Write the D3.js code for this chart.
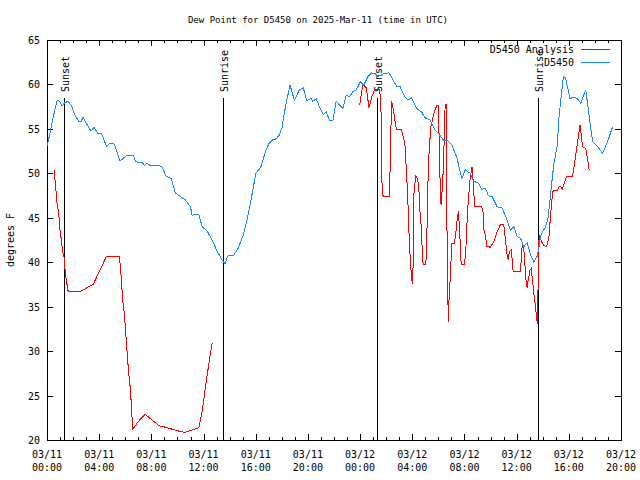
<!DOCTYPE html>
<html><head><meta charset="utf-8">
<script src="https://cdn.jsdelivr.net/npm/d3@7"></script>
<style>
body{margin:0;background:#fff}
svg{display:block}
text{font-family:"DejaVu Sans Mono",monospace;font-size:10px;fill:#000}
</style>
</head><body>
<svg id="c" width="640" height="480"></svg>
<script>
const chartTitle = "Dew Point for D5450 on 2025-Mar-11 (time in UTC)";
const yAxisLabel = "degrees F";
const seriesNames = ["D5450 Analysis", "D5450"];
const seriesColors = ["#ff0000", "#1a86ff"];
const startTime = "2025-03-11T00:00:00Z";
const endTime = "2025-03-12T20:00:00Z";
const yTicks = [20, 25, 30, 35, 40, 45, 50, 55, 60, 65];
const sunHours = [1.30, 13.51, 25.32, 37.62];
const sunLabels = ["Sunset", "Sunrise", "Sunset", "Sunrise"];

// D5450 observations (hours after start, deg F)
const d5450Hours = [0.02,0.33,0.59,0.77,0.98,1.16,1.36,1.62,1.87,2.13,2.44,2.60,2.77,3.03,3.37,3.60,3.88,4.18,4.57,4.83,5.16,5.60,6.11,6.63,6.80,7.32,7.47,7.65,7.91,8.55,8.81,9.12,9.53,9.84,10.61,11.00,11.12,11.64,11.89,12.28,12.66,13.05,13.43,13.64,13.89,14.33,14.66,15.03,15.33,15.64,16.01,16.39,16.78,17.03,17.28,17.59,17.80,18.01,18.19,18.36,18.63,18.78,18.96,19.34,19.65,19.90,20.24,20.37,20.63,20.88,21.19,21.40,21.65,21.91,22.17,22.42,22.68,22.94,23.19,23.45,23.71,24.02,24.27,24.61,24.87,25.12,25.38,25.64,25.89,26.22,26.53,26.79,27.05,27.43,27.69,27.95,28.33,28.72,28.97,29.36,29.74,30.00,30.38,30.65,31.03,31.42,31.80,32.06,32.44,32.70,33.08,33.34,33.60,33.85,34.11,34.50,34.89,35.27,35.52,35.78,36.04,36.30,36.55,36.81,37.07,37.32,37.58,37.71,37.84,38.22,38.40,38.61,38.74,38.86,39.12,39.25,39.59,39.76,40.09,40.40,40.66,40.92,41.30,41.56,41.82,42.21,42.59,42.98,43.36];
const d5450Values = [53.1,55.25,57.1,58.2,58.1,57.6,57.95,58.1,57.6,56.6,55.8,55.8,56.3,55.6,54.75,55.2,54.5,54.5,53.0,53.4,53.3,51.4,52.0,52.0,51.3,51.2,50.9,51.1,50.9,50.9,50.75,49.7,49.4,47.8,47.0,46.25,45.3,45.4,44.0,43.5,42.5,41.2,40.25,39.8,40.8,40.8,41.6,43.0,44.75,47.0,50.0,50.7,52.6,53.4,53.75,53.9,54.3,55.1,56.75,58.1,59.9,59.2,58.2,59.4,59.6,58.2,58.4,58.1,58.4,57.5,56.6,56.9,56.0,55.9,58.1,57.7,57.3,58.8,58.6,59.2,59.4,60.3,59.9,60.9,61.3,61.25,60.9,61.1,61.25,61.3,60.5,59.8,59.8,58.6,58.25,58.5,57.3,56.9,56.25,56.0,54.9,54.5,53.75,53.75,53.2,51.75,49.4,50.4,50.0,49.1,48.9,48.2,48.3,47.45,47.4,46.25,46.1,44.75,43.6,44.0,42.9,42.7,41.75,42.2,40.8,40.0,40.7,41.7,43.0,44.0,44.9,47.75,49.6,51.1,53.2,56.4,60.9,60.7,58.4,58.6,58.4,57.9,59.4,56.4,53.6,53.0,52.25,53.6,55.25];

// D5450 Analysis (null = gap in the line)
const analysisHours = [0.54,0.64,0.77,0.90,1.00,1.10,1.18,1.31,1.36,1.46,1.56,1.62,2.60,3.03,3.54,4.06,4.57,5.55,5.68,5.80,5.93,6.11,6.24,6.40,6.57,7.01,7.53,8.04,8.61,9.19,9.84,10.53,11.00,11.64,11.89,12.15,12.41,12.66,18.00,23.97,24.10,24.22,24.30,24.48,24.68,24.87,24.94,25.12,25.51,25.64,25.68,25.76,26.22,26.28,26.41,26.53,26.79,27.18,27.43,27.51,27.61,27.69,27.76,27.87,27.95,28.00,28.07,28.13,28.26,28.41,28.51,28.59,28.72,28.77,28.84,29.03,29.11,29.15,29.23,29.31,29.43,29.68,29.87,30.00,30.08,30.14,30.21,30.29,30.39,30.52,30.62,30.65,30.70,30.77,30.85,30.90,31.03,31.23,31.29,31.36,31.46,31.54,31.59,31.67,31.75,31.98,32.06,32.14,32.23,32.31,32.39,32.50,32.58,32.62,32.70,32.77,33.31,33.42,33.47,33.60,33.65,33.73,33.98,34.24,34.50,34.75,35.01,35.14,35.27,35.35,35.45,35.58,35.66,35.73,36.30,36.37,36.45,36.55,36.63,36.73,36.81,36.86,36.94,37.01,37.12,37.20,37.32,37.47,37.58,37.66,37.71,37.78,37.91,38.09,38.30,38.48,38.61,38.74,38.81,39.12,39.32,39.51,39.69,39.84,40.28,40.40,40.66,40.86,40.97,41.05,41.30,41.43,41.56];
const analysisValues = [50.4,48.9,46.6,45.5,43.6,42.5,41.4,40.5,39.5,38.2,37.25,36.75,36.75,37.1,37.5,39.1,40.7,40.7,38.5,35.75,34.25,30.5,27.9,25.6,21.2,22.1,22.9,22.25,21.6,21.4,21.1,20.85,21.05,21.4,23.2,26.0,28.6,30.95,null,57.7,59.0,59.9,59.9,59.6,57.4,58.4,58.8,59.4,59.4,56.0,48.9,47.45,47.45,49.2,58.1,57.3,54.9,54.9,53.4,51.3,48.5,45.9,42.9,39.7,38.4,37.6,39.7,47.75,49.7,49.4,48.1,45.7,43.4,40.8,39.7,39.7,41.75,45.9,50.4,53.0,55.25,56.9,57.6,57.6,52.6,48.5,46.4,48.1,50.75,57.7,57.7,45.7,37.6,33.3,37.6,37.8,42.1,42.1,42.7,43.6,45.1,45.7,44.5,42.3,39.7,39.7,40.6,42.3,45.7,47.0,48.9,50.0,50.75,50.0,48.5,46.25,46.25,45.7,43.8,43.0,42.5,41.75,41.7,42.3,43.4,44.2,44.3,42.5,40.8,40.3,41.2,41.4,40.25,39.0,39.0,40.8,42.3,41.4,39.9,37.8,37.1,37.8,38.4,39.1,39.3,38.2,36.5,34.6,33.1,38.2,42.5,43.0,42.3,41.9,41.75,42.9,45.5,47.6,48.1,48.1,48.6,48.2,49.1,49.7,49.7,50.75,53.4,55.4,54.1,53.0,52.8,51.7,50.4];

const W = 640, H = 480;
const L = 47, R = 621, T = 40, B = 440;
const t0 = new Date(startTime), t1 = new Date(endTime);
const HOUR = 3600e3;
const toDate = h => new Date(t0.getTime() + h * HOUR);

const x = d3.scaleUtc().domain([t0, t1]).range([L, R]);
const y = d3.scaleLinear().domain([20, 65]).range([B, T]);

const svg = d3.select("#c");
svg.append("rect").attr("width", W).attr("height", H).attr("fill", "#fff");

// title
svg.append("text").attr("x", 318).attr("y", 23).attr("text-anchor", "middle")
  .style("font-size", "9px").text(chartTitle);
// y label
svg.append("text").attr("transform", "translate(14,240) rotate(-90)").attr("text-anchor", "middle").text(yAxisLabel);

const majorTimes = d3.utcHour.every(4).range(t0, new Date(t1.getTime() + 1));
const minorTimes = d3.utcHour.every(1).range(t0, new Date(t1.getTime() + 1)).filter(d => d.getUTCHours() % 4 !== 0);

function styleAxis(g) {
  g.select(".domain").remove();
  g.selectAll("line").attr("stroke", "#000").attr("shape-rendering", "crispEdges");
  g.selectAll("text").remove();
}
svg.append("g").attr("transform", `translate(0,${B})`)
  .call(d3.axisBottom(x).tickValues(majorTimes).tickSize(-6).tickFormat(""))
  .call(styleAxis);
svg.append("g").attr("transform", `translate(0,${B})`)
  .call(d3.axisBottom(x).tickValues(minorTimes).tickSize(-3).tickFormat(""))
  .call(styleAxis);
svg.append("g").attr("transform", `translate(0,${T})`)
  .call(d3.axisTop(x).tickValues(majorTimes).tickSize(-6).tickFormat(""))
  .call(styleAxis);
svg.append("g").attr("transform", `translate(0,${T})`)
  .call(d3.axisTop(x).tickValues(minorTimes).tickSize(-3).tickFormat(""))
  .call(styleAxis);
svg.append("g").attr("transform", `translate(${L},0)`)
  .call(d3.axisLeft(y).tickValues(yTicks).tickSize(-6).tickFormat(""))
  .call(styleAxis);
svg.append("g").attr("transform", `translate(${R},0)`)
  .call(d3.axisRight(y).tickValues(yTicks).tickSize(-6).tickFormat(""))
  .call(styleAxis);

svg.append("g").selectAll("text").data(yTicks).join("text")
  .attr("x", L - 7).attr("y", d => y(d) + 4).attr("text-anchor", "end").text(d => d);
const fDay = d3.utcFormat("%m/%d"), fTime = d3.utcFormat("%H:%M");
const xl = svg.append("g").selectAll("g").data(majorTimes).join("g");
xl.append("text").attr("x", d => x(d)).attr("y", 458).attr("text-anchor", "middle").text(fDay);
xl.append("text").attr("x", d => x(d)).attr("y", 471).attr("text-anchor", "middle").text(fTime);

svg.append("rect").attr("x", L + 0.5).attr("y", T + 0.5).attr("width", R - L).attr("height", B - T)
  .attr("fill", "none").attr("stroke", "#000").attr("shape-rendering", "crispEdges");

const sun = svg.append("g").selectAll("g").data(sunHours.map((h, i) => ({ t: toDate(h), label: sunLabels[i] }))).join("g");
sun.append("line")
  .attr("x1", d => Math.round(x(d.t)) + 0.5).attr("x2", d => Math.round(x(d.t)) + 0.5)
  .attr("y1", 98).attr("y2", B).attr("stroke", "#000").attr("shape-rendering", "crispEdges");
sun.append("text")
  .attr("transform", d => `translate(${x(d.t) + 5},92) rotate(-90)`)
  .attr("text-anchor", "start").text(d => d.label);

const line = d3.line().defined(d => d.v !== null).x(d => x(d.t)).y(d => y(d.v));
const analysis = analysisHours.map((h, i) => ({ t: toDate(h), v: analysisValues[i] }));
const obs = d5450Hours.map((h, i) => ({ t: toDate(h), v: d5450Values[i] }));
svg.append("path").datum(analysis).attr("d", line).attr("fill", "none")
  .attr("stroke", seriesColors[0]).attr("stroke-width", 1).attr("shape-rendering", "crispEdges");
svg.append("path").datum(obs).attr("d", line).attr("fill", "none")
  .attr("stroke", seriesColors[1]).attr("stroke-width", 1).attr("shape-rendering", "crispEdges");

const leg = svg.append("g").selectAll("g").data(seriesNames).join("g");
leg.append("text").attr("x", 574).attr("y", (d, i) => 53 + i * 13).attr("text-anchor", "end").text(d => d);
leg.append("line").attr("x1", 581).attr("x2", 610)
  .attr("y1", (d, i) => 49.5 + i * 13).attr("y2", (d, i) => 49.5 + i * 13)
  .attr("stroke", (d, i) => seriesColors[i]).attr("shape-rendering", "crispEdges");
</script>
</body></html>
